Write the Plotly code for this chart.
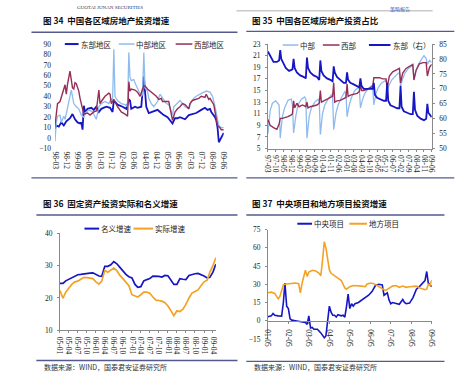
import plotly.graph_objects as go
import pandas as pd

W, H = 474, 384


def ym(lbl):
    yy, mm = lbl.split("-")
    y = int(yy)
    y = 2000 + y if y < 50 else 1900 + y
    return f"{y}-{mm}-01"


# ---------------- Fig 34: regional real-estate investment growth ----------------
p1_ticks = ["98-03", "98-12", "99-09", "00-06", "01-03", "01-12", "02-09", "03-06",
            "04-03", "04-12", "05-09", "06-06", "07-03", "07-12", "08-09", "09-06"]
p1_east_m = ["98-03", "98-04", "98-06", "98-08", "98-10", "98-12", "99-03", "99-05", "99-07", "99-09",
             "99-11", "99-12", "00-01", "00-02", "00-03", "00-05", "00-08", "00-10", "00-12", "01-02",
             "01-04", "01-08", "01-11", "02-01", "02-02", "02-05", "02-09", "02-12", "03-02", "03-03",
             "03-04", "03-07", "03-09", "03-12", "04-02", "04-04", "04-06", "04-09", "05-01", "05-03",
             "05-06", "05-09", "05-11", "06-01", "06-03", "06-05", "06-07", "06-11", "07-02", "07-05",
             "07-08", "07-12", "08-03", "08-05", "08-07", "08-08", "08-11", "08-12", "09-01", "09-02",
             "09-04", "09-06"]
p1_east_v = [9, 12, 11, 15, 12, 16, 19, 23, 18, 15, 14, 15, 8, 31, 25, 28, 29, 27, 30,
             25, 28, 30, 29, 25, 36, 32, 30, 28, 37, 36, 28, 30, 29, 30, 59, 30, 24, 25,
             27, 25, 22, 20, 17, 14, 19, 19, 20, 18, 22, 23, 24, 27, 29, 27, 28, 25, 20, 17,
             10, -4, 0, 5]
p1_mid_m = ["98-03", "98-04", "98-05", "98-07", "98-08", "98-10", "98-11",
            "99-01", "99-04", "99-05", "99-06", "99-08", "99-10", "99-12",
            "00-02", "00-04", "00-06", "00-09", "00-12",
            "01-02", "01-04", "01-07", "01-10", "01-12",
            "02-01", "02-02", "02-03", "02-05", "02-08", "02-11",
            "03-01", "03-02", "03-03", "03-04", "03-06", "03-08", "03-10", "03-12",
            "04-01", "04-02", "04-03", "04-05", "04-06", "04-08", "04-10",
            "05-01", "05-03", "05-05", "05-08", "05-10",
            "06-01", "06-02", "06-05", "06-07", "06-09", "06-11",
            "07-02", "07-04", "07-06", "07-08", "07-11",
            "08-02", "08-04", "08-07", "08-09", "08-11",
            "09-01", "09-02", "09-04", "09-06"]
p1_mid_v = [-3, 15, 21, 22, 15, 21, 18,
            30, 46, 40, 33, 30, 28, 22,
            20, 25, 27, 25, 18,
            30, 33, 35, 33, 38,
            35, 85, 40, 36, 33, 32,
            30, 82, 58, 55, 56, 50, 45, 40,
            42, 82, 48, 45, 38, 33, 30,
            35, 42, 38, 33, 32,
            22, 30, 33, 36, 33, 30,
            28, 35, 38, 40, 42,
            44, 45, 44, 40, 30,
            18, 12, 10, 10]
p1_west_m = ["98-03", "98-05", "98-07", "98-10", "98-11", "98-12",
             "99-01", "99-03", "99-05", "99-06", "99-07", "99-08", "99-10", "99-11", "99-12",
             "00-02", "00-05", "00-07", "00-10", "00-12",
             "01-02", "01-03", "01-04", "01-07", "01-10", "01-11", "01-12",
             "02-01", "02-02", "02-05", "02-08", "02-11",
             "03-01", "03-02", "03-03", "03-04", "03-07", "03-09", "03-11",
             "04-02", "04-03", "04-05", "04-07", "04-09", "04-12",
             "05-02", "05-04", "05-05", "05-08", "05-10",
             "06-01", "06-03", "06-05", "06-07", "06-09", "06-11",
             "07-02", "07-03", "07-05", "07-07", "07-10", "07-12",
             "08-03", "08-04", "08-06", "08-07", "08-10", "08-11", "08-12",
             "09-01", "09-03", "09-04", "09-06"]
p1_west_v = [12, 33, 35, 46, 51, 42,
             52, 64, 48, 47, 53, 52, 45, 38, 32,
             23, 24, 22, 25, 26,
             46, 33, 35, 40, 43, 42, 33,
             35, 37, 30, 25, 23,
             21, 54, 45, 47, 46, 44, 40,
             50, 50, 47, 45, 43, 40,
             37, 38, 35, 35, 35,
             17, 25, 28, 30, 33, 32,
             28, 33, 36, 37, 38, 40,
             39, 42, 37, 38, 32, 25, 20,
             12, 10, 8, 8]

# ---------------- Fig 35: regional share of real-estate investment ----------------
p2_ticks = ["97-03", "97-10", "98-05", "98-12", "99-07", "00-02", "00-09", "01-04", "01-11",
            "02-06", "03-01", "03-08", "04-03", "04-10", "05-05", "05-12", "06-07", "07-02",
            "07-09", "08-04", "08-11", "09-06"]
p2_mid_m = ["97-03", "97-05", "97-07", "97-10", "98-01",
            "98-02", "98-04", "98-06", "98-09", "98-12", "99-01",
            "99-02", "99-04", "99-06", "99-09", "99-12", "00-01",
            "00-02", "00-04", "00-06", "00-09", "00-12", "01-01",
            "01-02", "01-04", "01-06", "01-09", "01-12", "02-01",
            "02-02", "02-04", "02-06", "02-09", "02-12", "03-01",
            "03-02", "03-04", "03-06", "03-09", "03-12", "04-01",
            "04-02", "04-04", "04-06", "04-09", "04-12", "05-01",
            "05-02", "05-04", "05-06", "05-09", "05-12", "06-01",
            "06-02", "06-04", "06-06", "06-09", "06-12", "07-01",
            "07-02", "07-04", "07-06", "07-09", "07-12", "08-01",
            "08-02", "08-04", "08-06", "08-09", "08-11", "09-01",
            "09-02", "09-04", "09-06"]
p2_mid_v = [7.5, 11.5, 12.8, 13.2, 12.5,
            6.8, 10.5, 12, 13.3, 13.5, 12.5,
            7.7, 10.5, 12.5, 13.5, 13.9, 13.5,
            6.8, 10.5, 12, 13, 13.5, 13.2,
            7.4, 11, 12.5, 13.5, 14.3, 14,
            8.3, 11, 12.5, 13.8, 14.8, 14.5,
            10.5, 12.5, 13.8, 15, 15.5, 15.3,
            12, 13.5, 14.5, 15.3, 15.8, 15.5,
            12.5, 14.5, 15.5, 16.3, 16.8, 16.8,
            14.8, 16, 16.8, 17.5, 18, 18,
            15.8, 17, 18, 18.8, 19.3, 19.3,
            17, 18.5, 19.5, 20.5, 21, 20.5,
            19.5, 20.2, 19.8]
p2_west_m = ["97-03", "97-05", "97-08", "97-11", "98-01",
             "98-02", "98-04", "98-06", "98-09", "98-12", "99-01",
             "99-02", "99-03", "99-05", "99-07", "99-10", "00-01",
             "00-02", "00-03", "00-05", "00-08", "00-11", "01-01",
             "01-02", "01-03", "01-05", "01-08", "01-11", "02-01",
             "02-02", "02-03", "02-05", "02-08", "02-11", "03-01",
             "03-02", "03-03", "03-05", "03-08", "03-11", "04-01",
             "04-02", "04-03", "04-05", "04-08", "04-11", "05-01",
             "05-02", "05-04", "05-07", "05-10", "06-01",
             "06-02", "06-04", "06-07", "06-10", "07-01",
             "07-02", "07-04", "07-07", "07-10", "08-01",
             "08-02", "08-04", "08-07", "08-10", "09-01",
             "09-02", "09-04", "09-06"]
p2_west_v = [10, 9, 8.6, 8.3, 9.2,
             10.2, 10.2, 10.3, 10.5, 10.8, 11,
             13.2, 12, 12.8, 12.2, 12.5, 12.2,
             13, 12, 12.2, 12.3, 12.5, 12.8,
             15, 13, 13.2, 13.5, 13.8, 14,
             16.3, 13, 13.2, 13.3, 13.6, 13.8,
             16.1, 14, 14.2, 14.3, 14.5, 14.8,
             16, 15, 15, 15.2, 15.5, 15.7,
             17.2, 17.2, 17.2, 17, 17,
             15.5, 17.5, 18.2, 18.5, 18.8,
             16.3, 18, 18.8, 19.2, 19.5,
             16.8, 18.5, 19.6, 19.8, 19.8,
             17.5, 19, 19.5]
p2_east_m = ["97-03", "97-05", "97-08", "97-11", "98-01",
             "98-02", "98-03", "98-05", "98-07", "98-10", "99-01",
             "99-02", "99-03", "99-05", "99-08", "99-11", "00-01",
             "00-02", "00-03", "00-05", "00-08", "00-11", "01-01",
             "01-02", "01-03", "01-05", "01-08", "01-11", "02-01",
             "02-02", "02-03", "02-05", "02-08", "02-11", "03-01",
             "03-02", "03-03", "03-05", "03-08", "03-11", "04-01",
             "04-02", "04-03", "04-05", "04-08", "04-11", "05-01",
             "05-02", "05-03", "05-05", "05-08", "05-11", "06-01",
             "06-02", "06-03", "06-05", "06-08", "06-11", "07-01",
             "07-02", "07-03", "07-05", "07-08", "07-11", "08-01",
             "08-02", "08-03", "08-05", "08-08", "08-11", "09-01",
             "09-02", "09-03", "09-05", "09-06"]
p2_east_v = [82.5, 81, 79, 79, 79.5,
             83, 80, 78.5, 77, 76, 76.5,
             80, 77, 75.5, 74.5, 74, 73.5,
             80.5, 77, 75.5, 74.5, 74, 73,
             79.5, 76, 74.5, 73.5, 73, 72.5,
             77.5, 75.5, 74, 73, 72, 72,
             75.5, 73, 72, 71.5, 71, 70.5,
             73.5, 71, 70, 70, 70, 70,
             72, 68, 67, 66.5, 66, 66,
             72, 66, 64.5, 64, 63.5, 63.5,
             71, 64, 62.5, 62, 61.5, 61.5,
             69, 63, 61, 60, 59.5, 60,
             65, 62, 61, 60.5]

# ---------------- Fig 36: FAI nominal vs real growth ----------------
p3_ticks = ["05-01", "05-04", "05-07", "05-10", "06-01", "06-04", "06-07", "06-10", "07-01",
            "07-04", "07-07", "07-10", "08-01", "08-04", "08-07", "08-10", "09-01", "09-04"]
p3_months = pd.date_range("2005-01-01", "2009-05-01", freq="MS")
p3_nominal = [24.5, 24.5, 25.3, 25.8, 26.3, 26.9, 27.2, 27.3, 27.5, 27.6, 27.7, 27.8,
              27.2, 26.8, 26.7, 29.8, 29.8, 30.3, 31.3, 30.6, 29.5, 28.3, 27.3, 26.6,
              26.2, 24.2, 23.3, 23.5, 25.3, 25.7, 26.0, 26.8, 26.8, 26.7, 26.5, 27.0,
              26.9, 25.3, 24.2, 24.2, 26.0, 25.8, 25.7, 27.0, 27.3, 27.5, 27.6, 27.3,
              26.8, 26.2, 26.4, 28.0, 30.5]
p3_real = [22.3, 19.9, 21.8, 23.2, 24.2, 25.0, 25.2, 25.8, 26.4, 26.3, 26.2, 26.0,
           25.0, 24.3, 25.2, 28.6, 28.0, 28.7, 29.3, 28.5, 27.0, 26.0, 24.8, 23.8,
           21.0, 20.6, 20.3, 21.0, 21.8, 21.8, 21.5, 20.3, 19.3, 19.2, 19.0, 18.5,
           17.5, 16.0, 14.5, 16.0, 15.8, 16.5, 18.0, 20.0, 21.5, 22.0, 22.5, 23.8,
           25.0, 25.5, 28.0, 30.0, 32.5]

# ---------------- Fig 37: central vs local project investment growth ----------------
p4_ticks = ["01-05", "02-05", "03-05", "04-05", "05-05", "06-05", "07-05", "08-05", "09-05"]
p4_central_m = ["01-05", "01-06", "01-07", "01-08", "01-09", "01-11",
                "02-01", "02-02", "02-03", "02-04", "02-05", "02-06", "02-07", "02-09", "02-11",
                "03-01", "03-03", "03-04", "03-05", "03-06", "03-07", "03-08", "03-10", "03-12",
                "04-02", "04-03", "04-04", "04-05", "04-06", "04-07", "04-08", "04-09", "04-10", "04-12",
                "05-01", "05-02", "05-03", "05-04", "05-05", "05-06", "05-07", "05-08", "05-10", "05-12",
                "06-02", "06-04", "06-06", "06-08", "06-10", "06-12",
                "07-01", "07-02", "07-03", "07-04", "07-05", "07-06", "07-08", "07-10", "07-12",
                "08-01", "08-02", "08-04", "08-06", "08-08", "08-10", "08-12",
                "09-01", "09-02", "09-03", "09-04", "09-05"]
p4_central_v = [3.2, 3.5, 4, 6, 4.5, 4,
                3.8, 15, 31, 12, 10, 1.5, 0.5, 0, -0.5,
                -1, -1.5, -3, 4, -6, -5.5, -7, -7, -10,
                -14, -12.5, 1.5, 12, 7, 4.5, 4.5, 3, 5, 4,
                4.5, 3, 11, 22, 10, 14, 12, 14, 15, 17,
                19, 21, 24, 29, 30, 29.5,
                21, 22, 23, 17, 14, 15, 14, 13.5, 17.5,
                15, 14, 14.5, 19, 26, 28.5, 31,
                33, 40.5, 31, 29.5, 28]
p4_local_m = ["01-05", "01-07", "01-09", "01-10", "01-11", "01-12",
              "02-01", "02-02", "02-03", "02-05", "02-07", "02-09", "02-11", "02-12",
              "03-01", "03-02", "03-03", "03-04", "03-05", "03-07", "03-09", "03-11", "03-12",
              "04-01", "04-02", "04-03", "04-04", "04-05", "04-06", "04-08", "04-10", "04-12",
              "05-01", "05-02", "05-03", "05-05", "05-07", "05-10", "05-12",
              "06-02", "06-03", "06-05", "06-07", "06-09", "06-11",
              "07-01", "07-02", "07-04", "07-06", "07-08", "07-10", "07-12",
              "08-02", "08-04", "08-06", "08-08", "08-10", "08-12",
              "09-01", "09-02", "09-03", "09-04", "09-05"]
p4_local_v = [23, 23.5, 22.5, 20.5, 18, 20,
              25, 29.5, 30, 30.5, 31, 31, 30.5, 23,
              31, 38, 41.5, 36.5, 40, 41.5, 41, 39, 37,
              50, 65, 60, 52, 42, 39, 37, 35.5, 33,
              30, 27, 26, 28, 29, 29, 28.5,
              28, 30, 31, 30.5, 29, 27,
              25.5, 25, 27, 28.5, 29, 27.5, 28.5,
              27.5, 28, 28.5, 28.5, 27, 26,
              25.5, 26, 30, 29, 33.5]

# ---------------- styles ----------------
C_EAST = "#1616c4"
C_MID = "#8fbcee"
C_WEST = "#962e57"
C_ORANGE = "#f3a224"
CJK = "Noto Sans CJK SC"
SERIF = "Liberation Serif"
tickfont = dict(family=SERIF, size=7.5, color="#222222")
AXC = "#8a8a8a"

fig = go.Figure()


def add_line(months, vals, color, width, xa, ya, name):
    fig.add_trace(go.Scatter(x=[ym(m) for m in months], y=vals, mode="lines", name=name,
                             line=dict(color=color, width=width), xaxis=xa, yaxis=ya,
                             hoverinfo="skip"))


add_line(p1_east_m, p1_east_v, C_EAST, 1.8, "x", "y", "东部地区")
add_line(p1_mid_m, p1_mid_v, C_MID, 1.3, "x", "y", "中部地区")
add_line(p1_west_m, p1_west_v, C_WEST, 1.4, "x", "y", "西部地区")

add_line(p2_mid_m, p2_mid_v, C_MID, 1.3, "x2", "y2", "中部")
add_line(p2_west_m, p2_west_v, C_WEST, 1.4, "x2", "y2", "西部")
add_line(p2_east_m, p2_east_v, C_EAST, 1.8, "x2", "y3", "东部（右）")

fig.add_trace(go.Scatter(x=p3_months, y=p3_nominal, mode="lines", name="名义增速",
                         line=dict(color=C_EAST, width=1.7), xaxis="x3", yaxis="y4", hoverinfo="skip"))
fig.add_trace(go.Scatter(x=p3_months, y=p3_real, mode="lines", name="实际增速",
                         line=dict(color=C_ORANGE, width=1.7), xaxis="x3", yaxis="y4", hoverinfo="skip"))

add_line(p4_central_m, p4_central_v, C_EAST, 1.6, "x4", "y5", "中央项目")
add_line(p4_local_m, p4_local_v, C_ORANGE, 1.6, "x4", "y5", "地方项目")


def px(x):
    return x / W


def py(y):
    return 1 - y / H


def xdate_axis(dom, anchor, lo, hi, ticks, line):
    d = dict(domain=[px(dom[0]), px(dom[1])], anchor=anchor, type="date",
             range=[ym(lo), ym(hi)], tickmode="array",
             tickvals=[ym(t) for t in ticks], ticktext=ticks, tickangle=90,
             showgrid=False, zeroline=False, showline=line, linecolor=AXC, linewidth=1,
             ticks="outside" if line else "", ticklen=2, tickcolor=AXC,
             tickfont=tickfont, ticklabelstandoff=2)
    return d


def yaxis(dom, anchor, lo, hi, step, line, side="left"):
    return dict(domain=[py(dom[1]), py(dom[0])], anchor=anchor, range=[lo, hi],
                tickmode="array", tickvals=list(range(lo, hi + 1, step)), side=side,
                showgrid=False, zeroline=False, showline=line, linecolor=AXC, linewidth=1,
                ticks="outside" if line else "", ticklen=2, tickcolor=AXC,
                tickfont=tickfont, ticklabelstandoff=3)


p4_top, p4_bot = 231, 343
p4_zero_paper = py(p4_bot) + (0 - (-15)) / 90 * (py(p4_top) - py(p4_bot))

x4 = xdate_axis((269, 436), "free", "01-05", "09-05", p4_ticks, True)
x4["position"] = p4_zero_paper
x4["ticklabelstandoff"] = 4

y3 = yaxis((41, 148), "x2", 50, 85, 5, True, side="right")
y3["overlaying"] = "y2"

fig.update_layout(
    width=W, height=H, margin=dict(l=0, r=0, t=0, b=0),
    paper_bgcolor="white", plot_bgcolor="white", showlegend=False,
    hovermode=False,
    xaxis=xdate_axis((52, 224), "y", "98-03", "09-06", p1_ticks, False),
    yaxis=yaxis((41, 148), "x", -10, 90, 10, False),
    xaxis2=xdate_axis((269, 436), "y2", "97-03", "09-06", p2_ticks, True),
    yaxis2=yaxis((41, 148), "x2", 5, 23, 2, True),
    yaxis3=y3,
    xaxis3=xdate_axis((57, 216), "y4", "05-01", "09-05", p3_ticks, True),
    yaxis4=yaxis((235, 334), "x3", 10, 40, 10, True),
    xaxis4=x4,
    yaxis5=yaxis((p4_top, p4_bot), "x4", -15, 75, 15, True),
)

shapes = []
annots = []
RULE = "#545a8e"
for x0, x1, y in [(28, 238, 29), (247, 459, 28), (33, 238, 216), (247, 449, 216),
                  (28, 238, 178), (247, 459, 178), (33, 238, 365), (247, 449, 366)]:
    shapes.append(dict(type="line", xref="paper", yref="paper", x0=px(x0), x1=px(x1),
                       y0=py(y), y1=py(y), line=dict(color=RULE, width=1.4)))
shapes.append(dict(type="line", xref="paper", yref="paper", x0=px(237), x1=px(437),
                   y0=py(7), y1=py(7), line=dict(color="#9a9a9a", width=0.8)))


def text(x, y, s, size=7.5, color="#222222", family=CJK, anchor="left", yanchor="middle"):
    annots.append(dict(x=px(x), y=py(y), xref="paper", yref="paper", text=s, showarrow=False,
                       xanchor=anchor, yanchor=yanchor, borderpad=0,
                       font=dict(family=family, size=size, color=color)))


def legend_item(x0, x1, y, color, width, label, tx):
    shapes.append(dict(type="line", xref="paper", yref="paper", x0=px(x0), x1=px(x1),
                       y0=py(y), y1=py(y), line=dict(color=color, width=width)))
    text(tx, y, label)


legend_item(62, 76, 41, C_EAST, 2, "东部地区", 77)
legend_item(117, 133, 41, C_MID, 1.5, "中部地区", 134)
legend_item(175, 192, 41, C_WEST, 1.5, "西部地区", 193)

legend_item(284, 300, 42, C_MID, 1.5, "中部", 301)
legend_item(325, 342, 42, C_WEST, 1.5, "西部", 343)
legend_item(372, 394, 42, C_EAST, 2, "东部（右）", 395)

legend_item(82, 97, 230, C_EAST, 2, "名义增速", 98)
legend_item(132, 152, 230, C_ORANGE, 2, "实际增速", 153)

legend_item(299, 314, 225, C_EAST, 2, "中央项目", 315)
legend_item(352, 370, 225, C_ORANGE, 2, "地方项目", 371)

text(39, 16, "<b>图 34  中国各区域房地产投资增速</b>", size=8.5, color="#111111")
text(252, 16, "<b>图 35  中国各区域房地产投资占比</b>", size=8.5, color="#111111")
text(39, 204, "<b>图 36  固定资产投资实际和名义增速</b>", size=8.5, color="#111111")
text(252, 204, "<b>图 37  中央项目和地方项目投资增速</b>", size=8.5, color="#111111")

text(40, 372, "数据来源：WIND，国泰君安证券研究所", size=7, color="#333333")
text(254, 372, "数据来源：WIND，国泰君安证券研究所", size=7, color="#333333")

text(73, 0, "GUOTAI JUNAN SECURITIES", size=5, color="#2a3768", family=SERIF, yanchor="top")
text(392, 0, "策略报告", size=5, color="#3f63c8", yanchor="top")

fig.update_layout(shapes=shapes, annotations=annots)

fig.write_html("out.html", post_script="document.body.style.margin='0';",
               config={"displayModeBar": False, "staticPlot": True})
